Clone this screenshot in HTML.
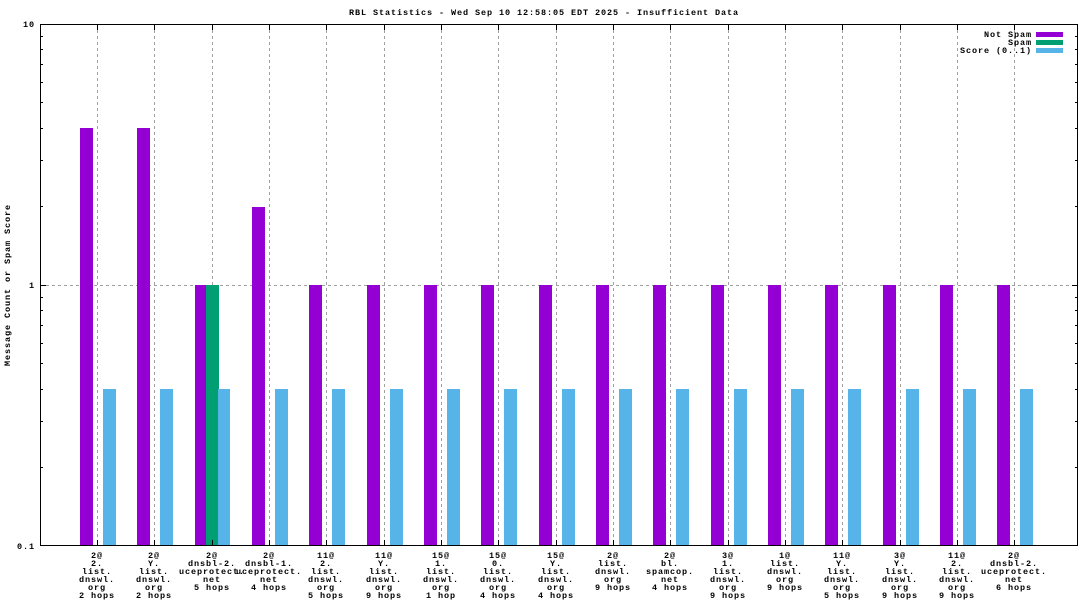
<!DOCTYPE html>
<html><head><meta charset="utf-8"><style>
body{margin:0;background:#fff}
svg{display:block}
text{font-family:"Liberation Mono",monospace;font-size:8.5px;letter-spacing:0.9px;fill:#000;font-weight:bold}
</style></head><body>
<svg width="1088" height="612" viewBox="0 0 1088 612" xmlns="http://www.w3.org/2000/svg">
<rect width="1088" height="612" fill="#fff"/>
<text x="544" y="15" text-anchor="middle">RBL Statistics - Wed Sep 10 12:58:05 EDT 2025 - Insufficient Data</text>
<text transform="translate(10,285) rotate(-90)" text-anchor="middle">Message Count or Spam Score</text>
<text x="35" y="27" text-anchor="end">10</text>
<text x="35" y="288" text-anchor="end">1</text>
<text x="35" y="549" text-anchor="end">0.1</text>
<g stroke="#a0a0a0" stroke-dasharray="3,3" stroke-width="1">
<line x1="40" y1="285.5" x2="1078" y2="285.5"/>
<path d="M97.5 24V546M154.5 24V546M212.5 24V546M269.5 24V546M326.5 24V546M384.5 24V546M441.5 24V546M498.5 24V546M556.5 24V546M613.5 24V546M670.5 24V546M728.5 24V546M785.5 24V546M842.5 24V546M900.5 24V546M957.5 24V546M1014.5 24V546"/>
</g>
<g fill="#9400d3">
<rect x="80" y="128" width="13" height="418"/>
<rect x="137" y="128" width="13" height="418"/>
<rect x="195" y="285" width="11" height="261"/>
<rect x="252" y="207" width="13" height="339"/>
<rect x="309" y="285" width="13" height="261"/>
<rect x="367" y="285" width="13" height="261"/>
<rect x="424" y="285" width="13" height="261"/>
<rect x="481" y="285" width="13" height="261"/>
<rect x="539" y="285" width="13" height="261"/>
<rect x="596" y="285" width="13" height="261"/>
<rect x="653" y="285" width="13" height="261"/>
<rect x="711" y="285" width="13" height="261"/>
<rect x="768" y="285" width="13" height="261"/>
<rect x="825" y="285" width="13" height="261"/>
<rect x="883" y="285" width="13" height="261"/>
<rect x="940" y="285" width="13" height="261"/>
<rect x="997" y="285" width="13" height="261"/>
</g>
<rect x="206" y="285" width="13" height="261" fill="#009e73"/>
<g fill="#56b4e9">
<rect x="103" y="389" width="13" height="157"/>
<rect x="160" y="389" width="13" height="157"/>
<rect x="218" y="389" width="12" height="157"/>
<rect x="275" y="389" width="13" height="157"/>
<rect x="332" y="389" width="13" height="157"/>
<rect x="390" y="389" width="13" height="157"/>
<rect x="447" y="389" width="13" height="157"/>
<rect x="504" y="389" width="13" height="157"/>
<rect x="562" y="389" width="13" height="157"/>
<rect x="619" y="389" width="13" height="157"/>
<rect x="676" y="389" width="13" height="157"/>
<rect x="734" y="389" width="13" height="157"/>
<rect x="791" y="389" width="13" height="157"/>
<rect x="848" y="389" width="13" height="157"/>
<rect x="906" y="389" width="13" height="157"/>
<rect x="963" y="389" width="13" height="157"/>
<rect x="1020" y="389" width="13" height="157"/>
</g>
<g stroke="#000" stroke-width="1" fill="none">
<rect x="40.5" y="24.5" width="1037" height="521"/>
<path d="M40 285.5h6M1078 285.5h-6"/>
<path d="M40 467.5h3M40 421.5h3M40 389.5h3M40 363.5h3M40 343.5h3M40 325.5h3M40 310.5h3M40 297.5h3M40 206.5h3M40 160.5h3M40 128.5h3M40 102.5h3M40 82.5h3M40 64.5h3M40 49.5h3M40 36.5h3"/>
<path d="M1078 467.5h-3M1078 421.5h-3M1078 389.5h-3M1078 363.5h-3M1078 343.5h-3M1078 325.5h-3M1078 310.5h-3M1078 297.5h-3M1078 206.5h-3M1078 160.5h-3M1078 128.5h-3M1078 102.5h-3M1078 82.5h-3M1078 64.5h-3M1078 49.5h-3M1078 36.5h-3"/>
<path d="M97.5 546v-6M154.5 546v-6M212.5 546v-6M269.5 546v-6M326.5 546v-6M384.5 546v-6M441.5 546v-6M498.5 546v-6M556.5 546v-6M613.5 546v-6M670.5 546v-6M728.5 546v-6M785.5 546v-6M842.5 546v-6M900.5 546v-6M957.5 546v-6M1014.5 546v-6"/>
<path d="M97.5 24v6M154.5 24v6M212.5 24v6M269.5 24v6M326.5 24v6M384.5 24v6M441.5 24v6M498.5 24v6M556.5 24v6M613.5 24v6M670.5 24v6M728.5 24v6M785.5 24v6M842.5 24v6M900.5 24v6M957.5 24v6M1014.5 24v6"/>
</g>
<rect x="1034" y="30" width="32" height="26" fill="#fff"/>
<text x="1032" y="37" text-anchor="end">Not Spam</text>
<text x="1032" y="45" text-anchor="end">Spam</text>
<text x="1032" y="53" text-anchor="end">Score (0..1)</text>
<rect x="1036" y="32" width="27" height="5" fill="#9400d3"/>
<rect x="1036" y="40" width="27" height="5" fill="#009e73"/>
<rect x="1036" y="48" width="27" height="5" fill="#56b4e9"/>
<g text-anchor="middle">
<text x="97" y="558">2@</text><text x="97" y="566">2.</text><text x="97" y="574">list.</text><text x="97" y="582">dnswl.</text><text x="97" y="590">org</text><text x="97" y="598">2 hops</text>
<text x="154" y="558">2@</text><text x="154" y="566">Y.</text><text x="154" y="574">list.</text><text x="154" y="582">dnswl.</text><text x="154" y="590">org</text><text x="154" y="598">2 hops</text>
<text x="212" y="558">2@</text><text x="212" y="566">dnsbl-2.</text><text x="212" y="574">uceprotect.</text><text x="212" y="582">net</text><text x="212" y="590">5 hops</text>
<text x="269" y="558">2@</text><text x="269" y="566">dnsbl-1.</text><text x="269" y="574">uceprotect.</text><text x="269" y="582">net</text><text x="269" y="590">4 hops</text>
<text x="326" y="558">11@</text><text x="326" y="566">2.</text><text x="326" y="574">list.</text><text x="326" y="582">dnswl.</text><text x="326" y="590">org</text><text x="326" y="598">5 hops</text>
<text x="384" y="558">11@</text><text x="384" y="566">Y.</text><text x="384" y="574">list.</text><text x="384" y="582">dnswl.</text><text x="384" y="590">org</text><text x="384" y="598">9 hops</text>
<text x="441" y="558">15@</text><text x="441" y="566">1.</text><text x="441" y="574">list.</text><text x="441" y="582">dnswl.</text><text x="441" y="590">org</text><text x="441" y="598">1 hop</text>
<text x="498" y="558">15@</text><text x="498" y="566">0.</text><text x="498" y="574">list.</text><text x="498" y="582">dnswl.</text><text x="498" y="590">org</text><text x="498" y="598">4 hops</text>
<text x="556" y="558">15@</text><text x="556" y="566">Y.</text><text x="556" y="574">list.</text><text x="556" y="582">dnswl.</text><text x="556" y="590">org</text><text x="556" y="598">4 hops</text>
<text x="613" y="558">2@</text><text x="613" y="566">list.</text><text x="613" y="574">dnswl.</text><text x="613" y="582">org</text><text x="613" y="590">9 hops</text>
<text x="670" y="558">2@</text><text x="670" y="566">bl.</text><text x="670" y="574">spamcop.</text><text x="670" y="582">net</text><text x="670" y="590">4 hops</text>
<text x="728" y="558">3@</text><text x="728" y="566">1.</text><text x="728" y="574">list.</text><text x="728" y="582">dnswl.</text><text x="728" y="590">org</text><text x="728" y="598">9 hops</text>
<text x="785" y="558">1@</text><text x="785" y="566">list.</text><text x="785" y="574">dnswl.</text><text x="785" y="582">org</text><text x="785" y="590">9 hops</text>
<text x="842" y="558">11@</text><text x="842" y="566">Y.</text><text x="842" y="574">list.</text><text x="842" y="582">dnswl.</text><text x="842" y="590">org</text><text x="842" y="598">5 hops</text>
<text x="900" y="558">3@</text><text x="900" y="566">Y.</text><text x="900" y="574">list.</text><text x="900" y="582">dnswl.</text><text x="900" y="590">org</text><text x="900" y="598">9 hops</text>
<text x="957" y="558">11@</text><text x="957" y="566">2.</text><text x="957" y="574">list.</text><text x="957" y="582">dnswl.</text><text x="957" y="590">org</text><text x="957" y="598">9 hops</text>
<text x="1014" y="558">2@</text><text x="1014" y="566">dnsbl-2.</text><text x="1014" y="574">uceprotect.</text><text x="1014" y="582">net</text><text x="1014" y="590">6 hops</text>
</g>
</svg>
</body></html>
